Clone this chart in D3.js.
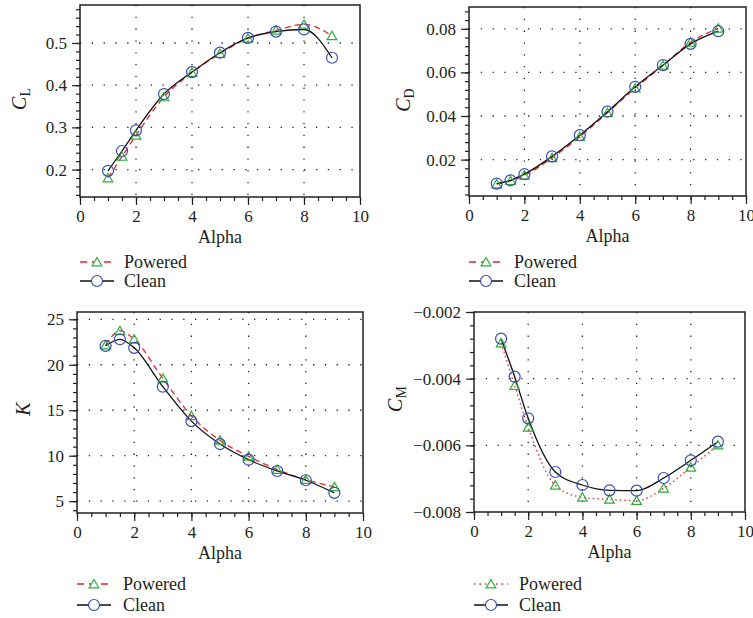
<!DOCTYPE html>
<html>
<head>
<meta charset="utf-8">
<script src="https://cdn.jsdelivr.net/npm/d3@7"></script>
<style>
  body { margin: 0; background: #fff; }
  svg text { fill: #231f20; font-family: "Liberation Serif", "DejaVu Serif", "Times New Roman", serif; }
</style>
</head>
<body>
<div id="graph"></div>
<script>
// angle of attack, shared by all four plots
const alpha = [1, 1.5, 2, 3, 4, 5, 6, 7, 8, 9];

const clPowered = [0.180, 0.231, 0.281, 0.372, 0.430, 0.475, 0.511, 0.530, 0.544, 0.517];
const clClean   = [0.197, 0.244, 0.293, 0.379, 0.431, 0.477, 0.512, 0.527, 0.532, 0.465];

const cdPowered = [0.0088, 0.0103, 0.0128, 0.0208, 0.0305, 0.0415, 0.0528, 0.0632, 0.0738, 0.0802];
const cdClean   = [0.0090, 0.0105, 0.0133, 0.0215, 0.0312, 0.0420, 0.0534, 0.0633, 0.0731, 0.0789];

const kPowered = [22.15, 23.72, 22.8, 18.5, 14.38, 11.68, 9.93, 8.47, 7.37, 6.57];
const kClean   = [22.08, 22.8, 21.86, 17.59, 13.8, 11.28, 9.56, 8.32, 7.3, 5.91];

const cmPowered = [-0.00293, -0.00421, -0.00546, -0.0072, -0.00756, -0.00762, -0.00766, -0.00729, -0.00666, -0.00599];
const cmClean   = [-0.0028, -0.00394, -0.00519, -0.0068, -0.00719, -0.00735, -0.00736, -0.00698, -0.00645, -0.00589];

const xTicks = [0, 2, 4, 6, 8, 10];
const clTicks = [0.2, 0.3, 0.4, 0.5];
const cdTicks = [0.02, 0.04, 0.06, 0.08];
const kTicks = [5, 10, 15, 20, 25];
const cmTicks = [-0.008, -0.006, -0.004, -0.002];
const seriesNames = ["Powered", "Clean"];

var w = 753, h = 618;
var font = '"Liberation Serif", "DejaVu Serif", "Times New Roman", serif';
var red = "#e3262b", green = "#2fae3a", blue = "#3b4db3";

var svg = d3.select('#graph')
  .append('svg')
  .attr("width", w)
  .attr("height", h)
  .style("background", "#fff");

var panels = [
  { box: [80, 360, 5, 197], yDom: [0.135, 0.59], yTicks: clTicks, yMinor: 0.02, fmt: ".1f",
    powered: clPowered, clean: clClean, sym: "C", sub: "L", lab: [26, 99],
    dash: "6,4", legDash: "7,5", leg: [80, 124, 262, 281] },
  { box: [469, 746, 7, 196], yDom: [0.0033, 0.09], yTicks: cdTicks, yMinor: 0.004, fmt: ".2f",
    powered: cdPowered, clean: cdClean, sym: "C", sub: "D", lab: [410, 100],
    dash: "6,4", legDash: "7,5", leg: [469, 514, 262, 281] },
  { box: [77, 363, 312, 513], yDom: [3.7, 25.8], yTicks: kTicks, yMinor: 1, fmt: "d",
    powered: kPowered, clean: kClean, sym: "K", sub: "", lab: [30, 409],
    dash: "6,4", legDash: "7,5", leg: [77, 123, 584, 605] },
  { box: [474, 745, 312, 512], yDom: [-0.008, -0.002], yTicks: cmTicks, yMinor: 0.0004, fmt: ".3f",
    powered: cmPowered, clean: cmClean, sym: "C", sub: "M", lab: [402, 399],
    dash: "1.5,3", legDash: "1.5,4", leg: [474, 519, 584, 605] }
];

function minorValues(lo, hi, step) {
  var out = [];
  for (var i = Math.ceil(lo / step - 1e-6); i <= Math.floor(hi / step + 1e-6); i++) out.push(+(i * step).toFixed(8));
  return out;
}

var triangle = d3.symbol().type(d3.symbolTriangle).size(40);

panels.forEach(p => {
  var [x0, x1, y0, y1] = p.box;
  var x = d3.scaleLinear().domain([0, 10]).range([x0, x1]);
  var y = d3.scaleLinear().domain(p.yDom).range([y1, y0]);
  var g = svg.append("g");

  // dotted grid
  g.append("g").selectAll("line.vg")
    .data(xTicks.filter(t => t > 0 && t < 10))
    .enter().append("line")
    .attr("x1", d => x(d)).attr("x2", d => x(d))
    .attr("y1", y0).attr("y2", y1)
    .attr("stroke", "#222").attr("stroke-width", 1.3)
    .attr("stroke-dasharray", "1.3,10.5");

  g.append("g").selectAll("line.hg")
    .data(p.yTicks.filter(t => y(t) > y0 + 1 && y(t) < y1 - 1))
    .enter().append("line")
    .attr("x1", x0).attr("x2", x1)
    .attr("y1", d => y(d)).attr("y2", d => y(d))
    .attr("stroke", "#222").attr("stroke-width", 1.3)
    .attr("stroke-dasharray", "1.3,10.5");

  // minor ticks
  var xMinor = d3.axisBottom(x).tickValues(minorValues(0, 10, 0.5)).tickSize(4).tickFormat("");
  g.append("g").attr("transform", `translate(0,${y1})`).call(xMinor)
    .call(a => a.select(".domain").remove());
  var yMinor = d3.axisLeft(y).tickValues(minorValues(p.yDom[0], p.yDom[1], p.yMinor)).tickSize(4).tickFormat("");
  g.append("g").attr("transform", `translate(${x0},0)`).call(yMinor)
    .call(a => a.select(".domain").remove());

  // major ticks and labels
  var xAxis = d3.axisBottom(x).tickValues(xTicks).tickSize(8).tickPadding(5).tickFormat(d3.format("d"));
  g.append("g").attr("transform", `translate(0,${y1})`).call(xAxis)
    .attr("font-family", null).attr("font-size", 17)
    .call(a => a.select(".domain").remove());
  var yAxis = d3.axisLeft(y).tickValues(p.yTicks).tickSize(8).tickPadding(5).tickFormat(d3.format(p.fmt));
  g.append("g").attr("transform", `translate(${x0},0)`).call(yAxis)
    .attr("font-family", null).attr("font-size", 17)
    .call(a => a.select(".domain").remove());

  g.selectAll(".tick line").attr("stroke", "#231f20").attr("stroke-width", 1.2);
  g.selectAll(".tick text").attr("fill", "#231f20").style("font-family", font);

  // frame
  g.append("rect")
    .attr("x", x0).attr("y", y0)
    .attr("width", x1 - x0).attr("height", y1 - y0)
    .attr("fill", "none").attr("stroke", "#231f20").attr("stroke-width", 1.5);

  // axis titles
  g.append("text")
    .attr("x", (x0 + x1) / 2).attr("y", y1 + 46)
    .attr("text-anchor", "middle")
    .style("font-family", font).attr("font-size", 18)
    .text("Alpha");

  var yl = g.append("text")
    .attr("transform", `translate(${p.lab[0]},${p.lab[1]}) rotate(-90)`)
    .attr("text-anchor", "middle")
    .style("font-family", font).attr("font-size", 20);
  yl.append("tspan").attr("font-style", "italic").text(p.sym);
  if (p.sub) yl.append("tspan").attr("font-size", 14).attr("dy", 4).text(p.sub);

  // curves
  var line = d3.line()
    .x((d, i) => x(alpha[i]))
    .y(d => y(d))
    .curve(d3.curveMonotoneX);

  g.append("path").datum(p.powered)
    .attr("d", line)
    .attr("fill", "none").attr("stroke", red).attr("stroke-width", 1.3)
    .attr("stroke-dasharray", p.dash);

  g.append("path").datum(p.clean)
    .attr("d", line)
    .attr("fill", "none").attr("stroke", "#111").attr("stroke-width", 1.3);

  g.append("g").selectAll("path.tri")
    .data(p.powered).enter().append("path")
    .attr("d", triangle)
    .attr("transform", (d, i) => `translate(${x(alpha[i])},${y(d) + 1})`)
    .attr("fill", "none").attr("stroke", green).attr("stroke-width", 1.2);

  g.append("g").selectAll("circle")
    .data(p.clean).enter().append("circle")
    .attr("cx", (d, i) => x(alpha[i]))
    .attr("cy", d => y(d))
    .attr("r", 5.5)
    .attr("fill", "none").attr("stroke", blue).attr("stroke-width", 1.2);

  // legend
  var [lx, tx, ly0, ly1] = p.leg;
  var leg = g.append("g");
  leg.append("line")
    .attr("x1", lx).attr("x2", lx + 34).attr("y1", ly0).attr("y2", ly0)
    .attr("stroke", red).attr("stroke-width", 1.3).attr("stroke-dasharray", p.legDash);
  leg.append("path").attr("d", triangle)
    .attr("transform", `translate(${lx + 17},${ly0 + 1})`)
    .attr("fill", "#fff").attr("stroke", green).attr("stroke-width", 1.2);
  leg.append("line")
    .attr("x1", lx).attr("x2", lx + 34).attr("y1", ly1).attr("y2", ly1)
    .attr("stroke", "#111").attr("stroke-width", 1.3);
  leg.append("circle")
    .attr("cx", lx + 17).attr("cy", ly1).attr("r", 5.5)
    .attr("fill", "#fff").attr("stroke", blue).attr("stroke-width", 1.2);
  leg.selectAll("text.lg")
    .data(seriesNames).enter().append("text")
    .attr("x", tx).attr("y", (d, i) => (i ? ly1 : ly0) + 6)
    .style("font-family", font).attr("font-size", 18)
    .text(d => d);
});
</script>
</body>
</html>
